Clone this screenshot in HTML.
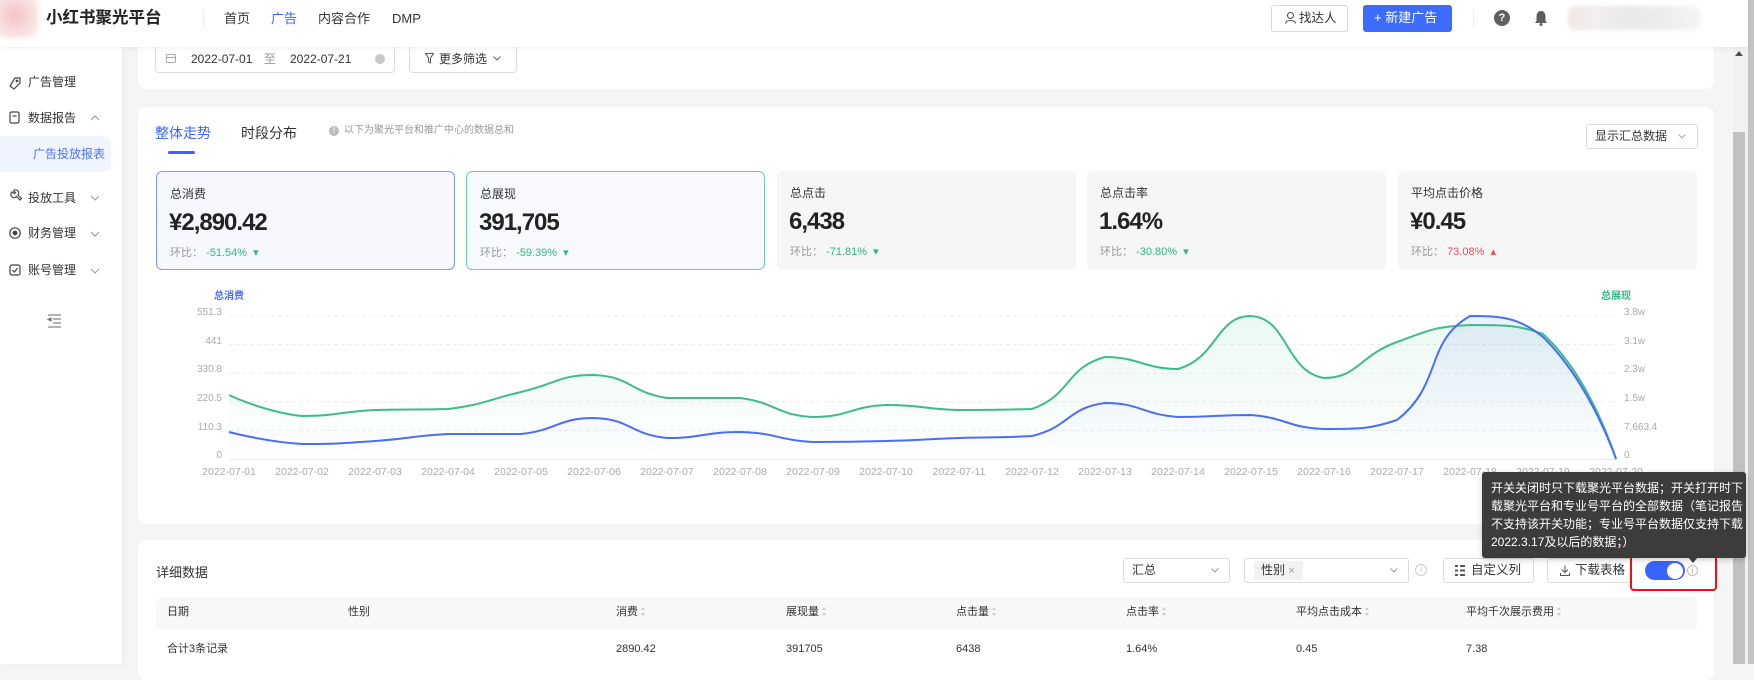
<!DOCTYPE html>
<html><head><meta charset="utf-8">
<style>
*{box-sizing:border-box;margin:0;padding:0}
body{width:1754px;height:664px;overflow:hidden;position:relative;background:#f5f5f5;font-family:"Liberation Sans","Noto Sans CJK SC",sans-serif;color:#333}
.a{position:absolute}
.t{position:absolute;white-space:nowrap;line-height:1}
.card{position:absolute;background:#fff;border-radius:8px}
.kc{position:absolute;top:171px;width:299px;height:99px;border-radius:6px;background:#f6f6f6}
.kc .tt{position:absolute;left:13px;top:16px;font-size:12px;color:#333;line-height:1}
.kc .v{position:absolute;left:12px;top:39px;font-size:24px;font-weight:bold;color:#222;letter-spacing:-1px;line-height:1}
.kc .r{position:absolute;left:13px;top:76px;font-size:11px;color:#999;line-height:1;white-space:nowrap}
.g{color:#2db87d}.rd{color:#f5475a}
.box{position:absolute;border:1px solid #dcdcdc;border-radius:3px;background:#fff}
.th{position:absolute;top:607px;font-size:11px;line-height:1;color:#333;white-space:nowrap}
.td{position:absolute;top:644px;font-size:11px;line-height:1;color:#333;white-space:nowrap}
.srt{display:inline-block;width:5px;height:9px;margin-left:3px;vertical-align:-1px;position:relative}
.srt:before,.srt:after{content:"";position:absolute;left:0;border-left:2.5px solid transparent;border-right:2.5px solid transparent}
.srt:before{top:0;border-bottom:3.5px solid #ccc}
.srt:after{bottom:0;border-top:3.5px solid #ccc}
</style></head><body>

<!-- sidebar -->
<div class="a" style="left:0;top:47px;width:122px;height:617px;background:#fff;box-shadow:2px 0 8px rgba(0,0,0,0.04)"></div>
<div class="a" style="left:0;top:136px;width:111px;height:36px;background:#f0f4ff;border-radius:0 8px 8px 0"></div>
<svg class="a" style="left:0;top:47px" width="122" height="300">
 <g fill="none" stroke="#444" stroke-width="1.2">
  <path d="M10 39 L15 31 L20 31 L20 36 L14 42 Z"/><circle cx="17" cy="34" r="0.8"/>
  <rect x="10" y="65" width="9" height="11" rx="1.5"/><line x1="12.5" y1="69" x2="16.5" y2="69"/>
  <path d="M12 145 a3.2 3.2 0 1 0 4.5 4.5 l3.5 3.5 l1.5 -1.5 l-3.5 -3.5 a3.2 3.2 0 0 0 -4.5 -4.5 l2 2 l-1 1 z"/>
  <circle cx="15" cy="186" r="5.2"/><circle cx="15" cy="186" r="1.8" fill="#444"/>
  <rect x="10" y="218" width="10" height="10" rx="2"/><path d="M12.5 223 l2 2 l3 -4"/>
  <polyline points="91,73 95,69 99,73" stroke="#999" stroke-width="1"/>
  <polyline points="91,149 95,153 99,149" stroke="#999" stroke-width="1"/>
  <polyline points="91,185 95,189 99,185" stroke="#999" stroke-width="1"/>
  <polyline points="91,222 95,226 99,222" stroke="#999" stroke-width="1"/>
  <g stroke="#777" stroke-width="1.1"><line x1="48" y1="268" x2="61" y2="268"/><line x1="53" y1="272" x2="61" y2="272"/><line x1="53" y1="276" x2="61" y2="276"/><line x1="48" y1="280" x2="61" y2="280"/><path d="M51 271 l-3 1.5 l3 1.5 Z" fill="#777"/></g>
 </g>
</svg>
<div class="t" style="left:28px;top:76px;font-size:12px">广告管理</div>
<div class="t" style="left:28px;top:112px;font-size:12px">数据报告</div>
<div class="t" style="left:33px;top:148px;font-size:12px;color:#4d73ff">广告投放报表</div>
<div class="t" style="left:28px;top:192px;font-size:12px">投放工具</div>
<div class="t" style="left:28px;top:227px;font-size:12px">财务管理</div>
<div class="t" style="left:28px;top:264px;font-size:12px">账号管理</div>

<!-- filter card -->
<div class="card" style="left:138px;top:20px;width:1576px;height:69px"></div>
<div class="box" style="left:155px;top:44px;width:240px;height:29px;border-radius:4px"></div>
<svg class="a" style="left:166px;top:53px" width="11" height="11"><rect x="0.5" y="1.5" width="9" height="8" rx="1" fill="none" stroke="#aaa"/><line x1="0.5" y1="4.5" x2="9.5" y2="4.5" stroke="#aaa"/></svg>
<div class="t" style="left:191px;top:53px;font-size:12px">2022-07-01</div>
<div class="t" style="left:264px;top:53px;font-size:12px;color:#999">至</div>
<div class="t" style="left:290px;top:53px;font-size:12px">2022-07-21</div>
<div class="a" style="left:375px;top:54px;width:10px;height:10px;border-radius:50%;background:#c8c8c8"></div>
<div class="box" style="left:409px;top:44px;width:108px;height:29px;border-radius:4px"></div>
<svg class="a" style="left:425px;top:53px" width="9" height="11"><path d="M0.5 0.5 H8.5 L5.5 5 V10 L3.5 9 V5 Z" fill="none" stroke="#555"/></svg>
<div class="t" style="left:439px;top:53px;font-size:12px">更多筛选</div>
<svg class="a" style="left:493px;top:56px" width="8" height="5"><polyline points="0.5,0.5 4,4 7.5,0.5" fill="none" stroke="#666"/></svg>

<!-- chart card -->
<div class="card" style="left:138px;top:107px;width:1576px;height:417px"></div>
<div class="t" style="left:155px;top:126px;font-size:14px;color:#3a64ff">整体走势</div>
<div class="a" style="left:168px;top:151px;width:27px;height:3px;border-radius:2px;background:#3a64ff"></div>
<div class="t" style="left:241px;top:126px;font-size:14px;color:#333">时段分布</div>
<div class="a" style="left:329px;top:126px;width:10px;height:10px;border-radius:50%;background:#bbb;color:#fff;font-size:8px;line-height:10px;text-align:center;font-weight:bold">!</div>
<div class="t" style="left:344px;top:126px;font-size:10px;color:#999">以下为聚光平台和推广中心的数据总和</div>
<div class="box" style="left:1586px;top:124px;width:112px;height:25px"></div>
<div class="t" style="left:1595px;top:130px;font-size:12px">显示汇总数据</div>
<svg class="a" style="left:1678px;top:134px" width="8" height="5"><polyline points="0.5,0.5 4,4 7.5,0.5" fill="none" stroke="#aaa"/></svg>

<!-- KPI cards -->
<div class="kc" style="left:156px;background:#f7f8fe;border:1px solid #7f98fb">
 <div class="tt">总消费</div><div class="v">¥2,890.42</div>
 <div class="r">环比：&nbsp;<span class="g">-51.54% &nbsp;▾</span></div></div>
<div class="kc" style="left:466px;background:#f7f9fc;border:1px solid #6fd0a3">
 <div class="tt">总展现</div><div class="v">391,705</div>
 <div class="r">环比：&nbsp;<span class="g">-59.39% &nbsp;▾</span></div></div>
<div class="kc" style="left:777px">
 <div class="tt">总点击</div><div class="v">6,438</div>
 <div class="r">环比：&nbsp;<span class="g">-71.81% &nbsp;▾</span></div></div>
<div class="kc" style="left:1087px">
 <div class="tt">总点击率</div><div class="v">1.64%</div>
 <div class="r">环比：&nbsp;<span class="g">-30.80% &nbsp;▾</span></div></div>
<div class="kc" style="left:1398px">
 <div class="tt">平均点击价格</div><div class="v">¥0.45</div>
 <div class="r">环比：&nbsp;<span class="rd">73.08% &nbsp;▴</span></div></div>

<!-- chart -->
<svg class="a" style="left:0;top:0" width="1754" height="664" font-family="Liberation Sans, Noto Sans CJK SC, sans-serif">
 <defs>
  <linearGradient id="gg" gradientUnits="userSpaceOnUse" x1="0" y1="316" x2="0" y2="459">
   <stop offset="0" stop-color="#2ebd85" stop-opacity="0.10"/><stop offset="1" stop-color="#2ebd85" stop-opacity="0.0"/></linearGradient>
  <linearGradient id="bg" gradientUnits="userSpaceOnUse" x1="0" y1="316" x2="0" y2="459">
   <stop offset="0" stop-color="#4a6cf7" stop-opacity="0.10"/><stop offset="1" stop-color="#4a6cf7" stop-opacity="0.0"/></linearGradient>
 </defs>
 <g stroke="#ececec" stroke-dasharray="4,3" stroke-width="1">
  <line x1="229" y1="316" x2="1616" y2="316"/><line x1="229" y1="344.6" x2="1616" y2="344.6"/>
  <line x1="229" y1="373.2" x2="1616" y2="373.2"/><line x1="229" y1="401.8" x2="1616" y2="401.8"/>
  <line x1="229" y1="430.4" x2="1616" y2="430.4"/>
 </g>
 <line x1="229" y1="459.5" x2="1616" y2="459.5" stroke="#e6e6e6"/>
 <g font-size="10" fill="#aaa" text-anchor="end">
  <text x="222" y="315">551.3</text><text x="222" y="344">441</text><text x="222" y="372">330.8</text>
  <text x="222" y="401">220.5</text><text x="222" y="430">110.3</text><text x="222" y="458">0</text>
 </g>
 <g font-size="10" fill="#aaa" text-anchor="start">
  <text x="1624" y="315">3.8w</text><text x="1624" y="344">3.1w</text><text x="1624" y="372">2.3w</text>
  <text x="1624" y="401">1.5w</text><text x="1624" y="430">7,663.4</text><text x="1624" y="458">0</text>
 </g>
 <text x="229" y="299" font-size="10" font-weight="bold" fill="#4a6cf7" text-anchor="middle">总消费</text>
 <text x="1616" y="299" font-size="10" font-weight="bold" fill="#2ebd85" text-anchor="middle">总展现</text>
 <g font-size="10.5" fill="#aaa" text-anchor="middle" id="xl"></g>
 <path id="ga" fill="url(#gg)" d=""/>
 <path id="ba" fill="url(#bg)" d=""/>
 <path id="gl" fill="none" stroke="#3dbd86" stroke-width="2" d="M229,395 L302,416 L375,410 L448,409 L521,392 L594,375 L667,398 L740,398 L813,417 L886,405 L959,410 L1032,409 L1105,357 L1178,369 L1251,316 L1324,378 L1397,342 L1470,325 L1543,334 L1616,459"/>
 <path id="bl" fill="none" stroke="#4b6ef5" stroke-width="2" d="M229,432 L302,444 L375,441 L448,434 L521,434 L594,418 L667,438 L740,432 L813,442 L886,441 L959,438 L1032,436 L1105,403 L1178,417 L1251,415 L1324,429 L1397,420 L1470,316 L1543,337 L1616,459"/>
</svg>
<script>
(function(){
 var dates=[];for(var i=1;i<=20;i++){dates.push('2022-07-'+(i<10?'0'+i:i));}
 var g=document.getElementById('xl'),ns='http://www.w3.org/2000/svg';
 dates.forEach(function(d,i){var t=document.createElementNS(ns,'text');t.setAttribute('x',229+73*i);t.setAttribute('y',475);t.textContent=d;g.appendChild(t);});
 function sm(ys){
  var P=ys.map(function(y,i){return [229+73*i,y];}),n=P.length,s=0.5;
  var d='M'+P[0][0]+','+P[0][1],cp0=[P[0][0],P[0][1]];
  for(var k=1;k<n;k++){
   var x=P[k][0],y=P[k][1],px=P[k-1][0],py=P[k-1][1],ncp,ratio=0.5,vx=0,vy=0;
   if(k===n-1){ncp=[x,y];}
   else{
    var nx=P[k+1][0],ny=P[k+1][1];vx=nx-px;vy=ny-py;
    var l0=Math.hypot(x-px,y-py),l1=Math.hypot(nx-x,ny-y);ratio=l1/(l0+l1);
    ncp=[x-vx*s*(1-ratio),y-vy*s*(1-ratio)];
    ncp[1]=Math.min(Math.max(ncp[1],Math.min(py,y)),Math.max(py,y));
   }
   d+=' C'+cp0[0].toFixed(1)+','+cp0[1].toFixed(1)+' '+ncp[0].toFixed(1)+','+ncp[1].toFixed(1)+' '+x+','+y;
   if(k<n-1){var ny2=P[k+1][1];cp0=[x+vx*s*ratio,y+vy*s*ratio];cp0[1]=Math.min(Math.max(cp0[1],Math.min(ny2,y)),Math.max(ny2,y));}
  }
  return d;
 }
 var G=[395,416,410,409,392,375,398,398,417,405,410,409,357,369,316,378,342,325,334,459];
 var B=[432,444,441,434,434,418,438,432,442,441,438,436,403,417,415,429,420,316,337,459];
 var gd=sm(G),bd=sm(B);
 document.getElementById('gl').setAttribute('d',gd);
 document.getElementById('bl').setAttribute('d',bd);
 document.getElementById('ga').setAttribute('d',gd+' L1616,459 L229,459 Z');
 document.getElementById('ba').setAttribute('d',bd+' L1616,459 L229,459 Z');
})();
</script>

<!-- table card -->
<div class="card" style="left:138px;top:540px;width:1576px;height:140px"></div>
<div class="t" style="left:156px;top:566px;font-size:13px">详细数据</div>
<div class="box" style="left:1123px;top:558px;width:107px;height:25px"></div>
<div class="t" style="left:1132px;top:564px;font-size:12px">汇总</div>
<svg class="a" style="left:1211px;top:568px" width="8" height="5"><polyline points="0.5,0.5 4,4 7.5,0.5" fill="none" stroke="#999"/></svg>
<div class="box" style="left:1244px;top:558px;width:165px;height:25px"></div>
<div class="a" style="left:1254px;top:561px;width:49px;height:19px;background:#f2f2f2;border-radius:2px"></div>
<div class="t" style="left:1261px;top:564px;font-size:12px">性别 <span style="color:#999;font-size:11px">×</span></div>
<svg class="a" style="left:1390px;top:568px" width="8" height="5"><polyline points="0.5,0.5 4,4 7.5,0.5" fill="none" stroke="#999"/></svg>
<div class="a" style="left:1415px;top:564px;width:12px;height:12px;border-radius:50%;border:1px solid #ccc;color:#bbb;font-size:8px;line-height:10px;text-align:center">i</div>
<div class="box" style="left:1443px;top:558px;width:91px;height:25px"></div>
<svg class="a" style="left:1455px;top:565px" width="10" height="11"><g fill="#555"><rect x="0" y="0" width="3" height="2"/><rect x="0" y="4.5" width="3" height="2"/><rect x="0" y="9" width="3" height="2"/><rect x="5" y="0" width="5" height="2"/><rect x="5" y="4.5" width="5" height="2"/><rect x="5" y="9" width="5" height="2"/></g></svg>
<div class="t" style="left:1471px;top:564px;font-size:12.5px">自定义列</div>
<div class="box" style="left:1547px;top:558px;width:84px;height:25px"></div>
<svg class="a" style="left:1560px;top:565px" width="10" height="11"><path d="M5 0.5 V7 M2 4.5 L5 7.5 L8 4.5 M0.5 8 V10.5 H9.5 V8" fill="none" stroke="#555"/></svg>
<div class="t" style="left:1575px;top:564px;font-size:12.5px">下载表格</div>
<div class="a" style="left:1645px;top:561px;width:40px;height:19px;border-radius:10px;background:#3a64ff"></div>
<div class="a" style="left:1667px;top:562.5px;width:16px;height:16px;border-radius:50%;background:#fff"></div>
<div class="a" style="left:1687px;top:565px;width:11px;height:11px;border-radius:50%;border:1px solid #bbb;color:#aaa;font-size:8px;line-height:9px;text-align:center">i</div>
<div class="a" style="left:1630px;top:555px;width:87px;height:36px;border:2px solid #f01010;border-radius:4px"></div>

<div class="a" style="left:156px;top:597px;width:1541px;height:33px;background:#f7f8fa;border-radius:6px"></div>
<div class="th" style="left:167px">日期</div>
<div class="th" style="left:348px">性别</div>
<div class="th" style="left:616px">消费<span class="srt"></span></div>
<div class="th" style="left:786px">展现量<span class="srt"></span></div>
<div class="th" style="left:956px">点击量<span class="srt"></span></div>
<div class="th" style="left:1126px">点击率<span class="srt"></span></div>
<div class="th" style="left:1296px">平均点击成本<span class="srt"></span></div>
<div class="th" style="left:1466px">平均千次展示费用<span class="srt"></span></div>
<div class="td" style="left:167px">合计3条记录</div>
<div class="td" style="left:616px">2890.42</div>
<div class="td" style="left:786px">391705</div>
<div class="td" style="left:956px">6438</div>
<div class="td" style="left:1126px">1.64%</div>
<div class="td" style="left:1296px">0.45</div>
<div class="td" style="left:1466px">7.38</div>

<!-- scrollbar -->
<div class="a" style="left:1733px;top:47px;width:15px;height:617px;background:#f1f1f1"></div>
<div class="a" style="left:1735px;top:51px;width:0;height:0;border-left:4px solid transparent;border-right:4px solid transparent;border-bottom:5px solid #505050"></div>
<div class="a" style="left:1733px;top:132px;width:12px;height:532px;background:#c1c1c1"></div>
<div class="a" style="left:1748px;top:0;width:6px;height:664px;background:#c4c4c4"></div>

<!-- tooltip -->
<div class="a" style="left:1482px;top:472px;width:264px;height:86px;background:#3c3c3c;border-radius:3px;box-shadow:0 2px 6px rgba(0,0,0,0.2)"></div>
<div class="a" style="left:1688px;top:557px;width:0;height:0;border-left:5px solid transparent;border-right:5px solid transparent;border-top:6px solid #3c3c3c"></div>
<div class="a" style="left:1491px;top:479px;width:250px;font-size:12px;line-height:18px;color:#fff;white-space:nowrap">开关关闭时只下载聚光平台数据；开关打开时下<br>载聚光平台和专业号平台的全部数据（笔记报告<br>不支持该开关功能；专业号平台数据仅支持下载<br>2022.3.17及以后的数据；）</div>

<!-- header -->
<div class="a" style="left:0;top:0;width:1748px;height:47px;background:#fff;box-shadow:0 1px 5px rgba(0,0,0,0.07)"></div>
<div class="a" style="left:-4px;top:-4px;width:42px;height:42px;border-radius:10px;background:radial-gradient(circle at 45% 45%,#f4c4c4 0%,#f9dede 55%,#fdf3f3 100%);filter:blur(2px)"></div>
<div class="t" style="left:46px;top:10px;font-size:16.5px;font-weight:bold;color:#222">小红书聚光平台</div>
<div class="a" style="left:203px;top:10px;width:1px;height:17px;background:#ececec"></div>
<div class="t" style="left:224px;top:12px;font-size:13px">首页</div>
<div class="t" style="left:271px;top:12px;font-size:13px;color:#3a64ff">广告</div>
<div class="t" style="left:318px;top:12px;font-size:13px">内容合作</div>
<div class="t" style="left:392px;top:12px;font-size:13px">DMP</div>
<div class="box" style="left:1271px;top:5px;width:77px;height:27px;border-color:#d9d9d9"></div>
<svg class="a" style="left:1285px;top:12px" width="11" height="12"><circle cx="5.5" cy="3.5" r="3" fill="none" stroke="#444"/><path d="M0.5 11.5 C1 7.5 10 7.5 10.5 11.5" fill="none" stroke="#444"/></svg>
<div class="t" style="left:1299px;top:12px;font-size:12.5px">找达人</div>
<div class="a" style="left:1363px;top:5px;width:89px;height:27px;background:#3d6bfd;border-radius:3px"></div>
<div class="t" style="left:1374px;top:11px;font-size:13px;color:#fff">+ 新建广告</div>
<div class="a" style="left:1473px;top:10px;width:1px;height:17px;background:#ececec"></div>
<div class="a" style="left:1494px;top:10px;width:16px;height:16px;border-radius:50%;background:#5f5f5f;color:#fff;font-size:11px;font-weight:bold;line-height:16px;text-align:center">?</div>
<svg class="a" style="left:1534px;top:10px" width="14" height="16"><path d="M7 1 C3.5 1 2.5 4 2.5 7 V11 L1 13 H13 L11.5 11 V7 C11.5 4 10.5 1 7 1 Z" fill="#5f5f5f"/><circle cx="7" cy="14.5" r="1.5" fill="#5f5f5f"/></svg>
<div class="a" style="left:1568px;top:6px;width:133px;height:24px;background:linear-gradient(90deg,#f1e6e6 0%,#f3eeee 20%,#e9e9e9 45%,#ececec 70%,#f5f5f5 100%);filter:blur(2px);border-radius:8px"></div>

</body></html>
